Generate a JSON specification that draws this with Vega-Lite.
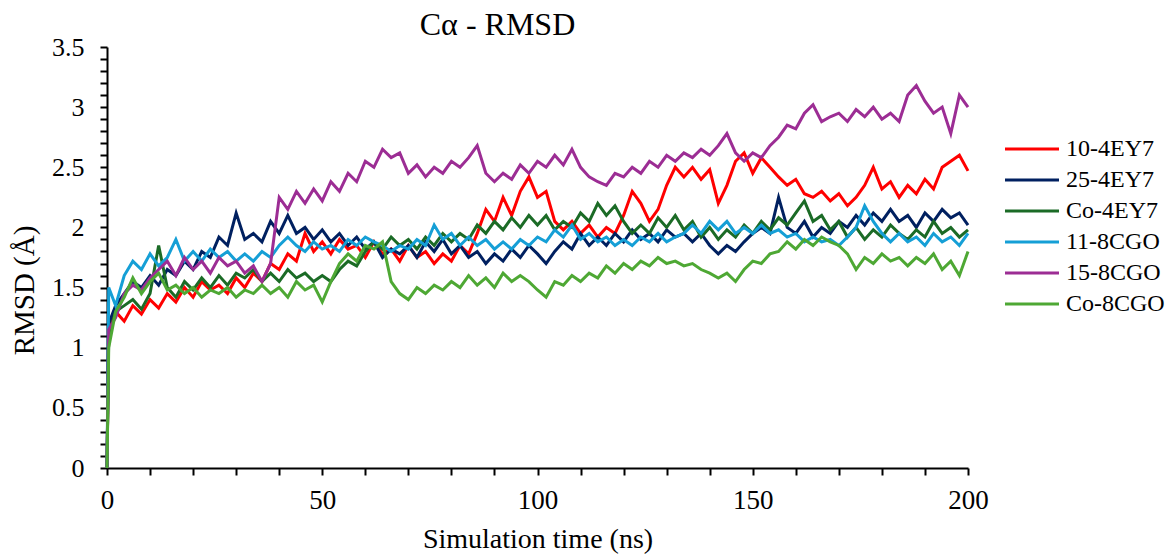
{
  "$schema": "https://vega.github.io/schema/vega-lite/v6.json",
  "width": 861,
  "height": 421,
  "autosize": "none",
  "padding": {"left": 107, "top": 47, "right": 203, "bottom": 86},
  "background": "white",
  "config": {"font": "Liberation Serif", "view": {"stroke": null}},
  "title": {"text": "Cα - RMSD", "fontSize": 32, "fontWeight": "normal", "color": "black", "anchor": "middle", "dx": -40, "offset": -8},
  "data": {"values": [
{"s":"10-4EY7","t":0,"v":0},{"s":"10-4EY7","t":0.4,"v":1.15},{"s":"10-4EY7","t":2,"v":1.3},{"s":"10-4EY7","t":4,"v":1.22},{"s":"10-4EY7","t":6,"v":1.35},{"s":"10-4EY7","t":8,"v":1.28},{"s":"10-4EY7","t":10,"v":1.4},{"s":"10-4EY7","t":12,"v":1.33},{"s":"10-4EY7","t":14,"v":1.45},{"s":"10-4EY7","t":16,"v":1.38},{"s":"10-4EY7","t":18,"v":1.5},{"s":"10-4EY7","t":20,"v":1.42},{"s":"10-4EY7","t":22,"v":1.55},{"s":"10-4EY7","t":24,"v":1.48},{"s":"10-4EY7","t":26,"v":1.52},{"s":"10-4EY7","t":28,"v":1.45},{"s":"10-4EY7","t":30,"v":1.58},{"s":"10-4EY7","t":32,"v":1.5},{"s":"10-4EY7","t":34,"v":1.62},{"s":"10-4EY7","t":36,"v":1.55},{"s":"10-4EY7","t":38,"v":1.7},{"s":"10-4EY7","t":40,"v":1.65},{"s":"10-4EY7","t":42,"v":1.78},{"s":"10-4EY7","t":44,"v":1.72},{"s":"10-4EY7","t":46,"v":1.95},{"s":"10-4EY7","t":48,"v":1.8},{"s":"10-4EY7","t":50,"v":1.88},{"s":"10-4EY7","t":52,"v":1.78},{"s":"10-4EY7","t":54,"v":1.9},{"s":"10-4EY7","t":56,"v":1.82},{"s":"10-4EY7","t":58,"v":1.85},{"s":"10-4EY7","t":60,"v":1.75},{"s":"10-4EY7","t":62,"v":1.88},{"s":"10-4EY7","t":64,"v":1.78},{"s":"10-4EY7","t":66,"v":1.82},{"s":"10-4EY7","t":68,"v":1.72},{"s":"10-4EY7","t":70,"v":1.85},{"s":"10-4EY7","t":72,"v":1.75},{"s":"10-4EY7","t":74,"v":1.8},{"s":"10-4EY7","t":76,"v":1.7},{"s":"10-4EY7","t":78,"v":1.78},{"s":"10-4EY7","t":80,"v":1.72},{"s":"10-4EY7","t":82,"v":1.85},{"s":"10-4EY7","t":84,"v":1.78},{"s":"10-4EY7","t":86,"v":1.95},{"s":"10-4EY7","t":88,"v":2.15},{"s":"10-4EY7","t":90,"v":2.05},{"s":"10-4EY7","t":92,"v":2.25},{"s":"10-4EY7","t":94,"v":2.1},{"s":"10-4EY7","t":96,"v":2.3},{"s":"10-4EY7","t":98,"v":2.42},{"s":"10-4EY7","t":100,"v":2.25},{"s":"10-4EY7","t":102,"v":2.3},{"s":"10-4EY7","t":104,"v":2.05},{"s":"10-4EY7","t":106,"v":1.98},{"s":"10-4EY7","t":108,"v":2.05},{"s":"10-4EY7","t":110,"v":1.95},{"s":"10-4EY7","t":112,"v":2.02},{"s":"10-4EY7","t":114,"v":1.92},{"s":"10-4EY7","t":116,"v":2.0},{"s":"10-4EY7","t":118,"v":1.95},{"s":"10-4EY7","t":120,"v":2.1},{"s":"10-4EY7","t":122,"v":2.3},{"s":"10-4EY7","t":124,"v":2.2},{"s":"10-4EY7","t":126,"v":2.05},{"s":"10-4EY7","t":128,"v":2.15},{"s":"10-4EY7","t":130,"v":2.35},{"s":"10-4EY7","t":132,"v":2.5},{"s":"10-4EY7","t":134,"v":2.42},{"s":"10-4EY7","t":136,"v":2.5},{"s":"10-4EY7","t":138,"v":2.4},{"s":"10-4EY7","t":140,"v":2.48},{"s":"10-4EY7","t":142,"v":2.2},{"s":"10-4EY7","t":144,"v":2.35},{"s":"10-4EY7","t":146,"v":2.55},{"s":"10-4EY7","t":148,"v":2.62},{"s":"10-4EY7","t":150,"v":2.45},{"s":"10-4EY7","t":152,"v":2.58},{"s":"10-4EY7","t":154,"v":2.5},{"s":"10-4EY7","t":156,"v":2.42},{"s":"10-4EY7","t":158,"v":2.35},{"s":"10-4EY7","t":160,"v":2.4},{"s":"10-4EY7","t":162,"v":2.28},{"s":"10-4EY7","t":164,"v":2.25},{"s":"10-4EY7","t":166,"v":2.3},{"s":"10-4EY7","t":168,"v":2.22},{"s":"10-4EY7","t":170,"v":2.28},{"s":"10-4EY7","t":172,"v":2.18},{"s":"10-4EY7","t":174,"v":2.25},{"s":"10-4EY7","t":176,"v":2.35},{"s":"10-4EY7","t":178,"v":2.5},{"s":"10-4EY7","t":180,"v":2.32},{"s":"10-4EY7","t":182,"v":2.38},{"s":"10-4EY7","t":184,"v":2.25},{"s":"10-4EY7","t":186,"v":2.35},{"s":"10-4EY7","t":188,"v":2.28},{"s":"10-4EY7","t":190,"v":2.4},{"s":"10-4EY7","t":192,"v":2.32},{"s":"10-4EY7","t":194,"v":2.5},{"s":"10-4EY7","t":196,"v":2.55},{"s":"10-4EY7","t":198,"v":2.6},{"s":"10-4EY7","t":200,"v":2.47},
{"s":"25-4EY7","t":0,"v":0},{"s":"25-4EY7","t":0.4,"v":1.2},{"s":"25-4EY7","t":2,"v":1.35},{"s":"25-4EY7","t":4,"v":1.45},{"s":"25-4EY7","t":6,"v":1.55},{"s":"25-4EY7","t":8,"v":1.5},{"s":"25-4EY7","t":10,"v":1.6},{"s":"25-4EY7","t":12,"v":1.52},{"s":"25-4EY7","t":14,"v":1.65},{"s":"25-4EY7","t":16,"v":1.6},{"s":"25-4EY7","t":18,"v":1.72},{"s":"25-4EY7","t":20,"v":1.65},{"s":"25-4EY7","t":22,"v":1.8},{"s":"25-4EY7","t":24,"v":1.75},{"s":"25-4EY7","t":26,"v":1.92},{"s":"25-4EY7","t":28,"v":1.85},{"s":"25-4EY7","t":30,"v":2.12},{"s":"25-4EY7","t":32,"v":1.9},{"s":"25-4EY7","t":34,"v":1.95},{"s":"25-4EY7","t":36,"v":1.88},{"s":"25-4EY7","t":38,"v":2.05},{"s":"25-4EY7","t":40,"v":1.95},{"s":"25-4EY7","t":42,"v":2.1},{"s":"25-4EY7","t":44,"v":1.95},{"s":"25-4EY7","t":46,"v":2.0},{"s":"25-4EY7","t":48,"v":1.9},{"s":"25-4EY7","t":50,"v":1.98},{"s":"25-4EY7","t":52,"v":1.88},{"s":"25-4EY7","t":54,"v":1.95},{"s":"25-4EY7","t":56,"v":1.85},{"s":"25-4EY7","t":58,"v":1.92},{"s":"25-4EY7","t":60,"v":1.82},{"s":"25-4EY7","t":62,"v":1.88},{"s":"25-4EY7","t":64,"v":1.75},{"s":"25-4EY7","t":66,"v":1.82},{"s":"25-4EY7","t":68,"v":1.78},{"s":"25-4EY7","t":70,"v":1.85},{"s":"25-4EY7","t":72,"v":1.75},{"s":"25-4EY7","t":74,"v":1.88},{"s":"25-4EY7","t":76,"v":1.8},{"s":"25-4EY7","t":78,"v":1.9},{"s":"25-4EY7","t":80,"v":1.78},{"s":"25-4EY7","t":82,"v":1.85},{"s":"25-4EY7","t":84,"v":1.75},{"s":"25-4EY7","t":86,"v":1.8},{"s":"25-4EY7","t":88,"v":1.7},{"s":"25-4EY7","t":90,"v":1.78},{"s":"25-4EY7","t":92,"v":1.72},{"s":"25-4EY7","t":94,"v":1.82},{"s":"25-4EY7","t":96,"v":1.75},{"s":"25-4EY7","t":98,"v":1.85},{"s":"25-4EY7","t":100,"v":1.78},{"s":"25-4EY7","t":102,"v":1.7},{"s":"25-4EY7","t":104,"v":1.8},{"s":"25-4EY7","t":106,"v":1.88},{"s":"25-4EY7","t":108,"v":1.82},{"s":"25-4EY7","t":110,"v":1.95},{"s":"25-4EY7","t":112,"v":1.85},{"s":"25-4EY7","t":114,"v":1.92},{"s":"25-4EY7","t":116,"v":1.85},{"s":"25-4EY7","t":118,"v":1.95},{"s":"25-4EY7","t":120,"v":1.88},{"s":"25-4EY7","t":122,"v":1.98},{"s":"25-4EY7","t":124,"v":1.9},{"s":"25-4EY7","t":126,"v":1.95},{"s":"25-4EY7","t":128,"v":1.88},{"s":"25-4EY7","t":130,"v":1.98},{"s":"25-4EY7","t":132,"v":1.92},{"s":"25-4EY7","t":134,"v":1.95},{"s":"25-4EY7","t":136,"v":1.88},{"s":"25-4EY7","t":138,"v":1.95},{"s":"25-4EY7","t":140,"v":1.85},{"s":"25-4EY7","t":142,"v":1.78},{"s":"25-4EY7","t":144,"v":1.85},{"s":"25-4EY7","t":146,"v":1.8},{"s":"25-4EY7","t":148,"v":1.88},{"s":"25-4EY7","t":150,"v":1.95},{"s":"25-4EY7","t":152,"v":2.0},{"s":"25-4EY7","t":154,"v":1.95},{"s":"25-4EY7","t":156,"v":2.25},{"s":"25-4EY7","t":158,"v":2.0},{"s":"25-4EY7","t":160,"v":1.95},{"s":"25-4EY7","t":162,"v":2.05},{"s":"25-4EY7","t":164,"v":1.92},{"s":"25-4EY7","t":166,"v":2.0},{"s":"25-4EY7","t":168,"v":1.95},{"s":"25-4EY7","t":170,"v":2.05},{"s":"25-4EY7","t":172,"v":2.0},{"s":"25-4EY7","t":174,"v":2.1},{"s":"25-4EY7","t":176,"v":2.02},{"s":"25-4EY7","t":178,"v":2.12},{"s":"25-4EY7","t":180,"v":2.05},{"s":"25-4EY7","t":182,"v":2.15},{"s":"25-4EY7","t":184,"v":2.05},{"s":"25-4EY7","t":186,"v":2.1},{"s":"25-4EY7","t":188,"v":2.0},{"s":"25-4EY7","t":190,"v":2.12},{"s":"25-4EY7","t":192,"v":2.05},{"s":"25-4EY7","t":194,"v":2.15},{"s":"25-4EY7","t":196,"v":2.08},{"s":"25-4EY7","t":198,"v":2.12},{"s":"25-4EY7","t":200,"v":2.02},
{"s":"Co-4EY7","t":0,"v":0},{"s":"Co-4EY7","t":0.4,"v":1.1},{"s":"Co-4EY7","t":2,"v":1.3},{"s":"Co-4EY7","t":4,"v":1.35},{"s":"Co-4EY7","t":6,"v":1.4},{"s":"Co-4EY7","t":8,"v":1.32},{"s":"Co-4EY7","t":10,"v":1.45},{"s":"Co-4EY7","t":12,"v":1.85},{"s":"Co-4EY7","t":14,"v":1.5},{"s":"Co-4EY7","t":16,"v":1.42},{"s":"Co-4EY7","t":18,"v":1.55},{"s":"Co-4EY7","t":20,"v":1.48},{"s":"Co-4EY7","t":22,"v":1.58},{"s":"Co-4EY7","t":24,"v":1.5},{"s":"Co-4EY7","t":26,"v":1.6},{"s":"Co-4EY7","t":28,"v":1.52},{"s":"Co-4EY7","t":30,"v":1.62},{"s":"Co-4EY7","t":32,"v":1.58},{"s":"Co-4EY7","t":34,"v":1.65},{"s":"Co-4EY7","t":36,"v":1.55},{"s":"Co-4EY7","t":38,"v":1.62},{"s":"Co-4EY7","t":40,"v":1.55},{"s":"Co-4EY7","t":42,"v":1.65},{"s":"Co-4EY7","t":44,"v":1.58},{"s":"Co-4EY7","t":46,"v":1.62},{"s":"Co-4EY7","t":48,"v":1.55},{"s":"Co-4EY7","t":50,"v":1.6},{"s":"Co-4EY7","t":52,"v":1.55},{"s":"Co-4EY7","t":54,"v":1.65},{"s":"Co-4EY7","t":56,"v":1.72},{"s":"Co-4EY7","t":58,"v":1.68},{"s":"Co-4EY7","t":60,"v":1.8},{"s":"Co-4EY7","t":62,"v":1.88},{"s":"Co-4EY7","t":64,"v":1.82},{"s":"Co-4EY7","t":66,"v":1.92},{"s":"Co-4EY7","t":68,"v":1.85},{"s":"Co-4EY7","t":70,"v":1.9},{"s":"Co-4EY7","t":72,"v":1.82},{"s":"Co-4EY7","t":74,"v":1.92},{"s":"Co-4EY7","t":76,"v":1.85},{"s":"Co-4EY7","t":78,"v":1.95},{"s":"Co-4EY7","t":80,"v":1.88},{"s":"Co-4EY7","t":82,"v":1.95},{"s":"Co-4EY7","t":84,"v":1.9},{"s":"Co-4EY7","t":86,"v":2.02},{"s":"Co-4EY7","t":88,"v":1.95},{"s":"Co-4EY7","t":90,"v":2.05},{"s":"Co-4EY7","t":92,"v":1.98},{"s":"Co-4EY7","t":94,"v":2.08},{"s":"Co-4EY7","t":96,"v":2.0},{"s":"Co-4EY7","t":98,"v":2.1},{"s":"Co-4EY7","t":100,"v":2.02},{"s":"Co-4EY7","t":102,"v":2.1},{"s":"Co-4EY7","t":104,"v":1.98},{"s":"Co-4EY7","t":106,"v":2.05},{"s":"Co-4EY7","t":108,"v":2.0},{"s":"Co-4EY7","t":110,"v":2.12},{"s":"Co-4EY7","t":112,"v":2.05},{"s":"Co-4EY7","t":114,"v":2.2},{"s":"Co-4EY7","t":116,"v":2.1},{"s":"Co-4EY7","t":118,"v":2.18},{"s":"Co-4EY7","t":120,"v":2.05},{"s":"Co-4EY7","t":122,"v":1.95},{"s":"Co-4EY7","t":124,"v":2.02},{"s":"Co-4EY7","t":126,"v":1.95},{"s":"Co-4EY7","t":128,"v":2.08},{"s":"Co-4EY7","t":130,"v":2.0},{"s":"Co-4EY7","t":132,"v":2.1},{"s":"Co-4EY7","t":134,"v":1.98},{"s":"Co-4EY7","t":136,"v":2.05},{"s":"Co-4EY7","t":138,"v":1.92},{"s":"Co-4EY7","t":140,"v":2.0},{"s":"Co-4EY7","t":142,"v":1.9},{"s":"Co-4EY7","t":144,"v":1.98},{"s":"Co-4EY7","t":146,"v":1.92},{"s":"Co-4EY7","t":148,"v":2.02},{"s":"Co-4EY7","t":150,"v":1.95},{"s":"Co-4EY7","t":152,"v":2.05},{"s":"Co-4EY7","t":154,"v":1.98},{"s":"Co-4EY7","t":156,"v":2.08},{"s":"Co-4EY7","t":158,"v":2.02},{"s":"Co-4EY7","t":160,"v":2.12},{"s":"Co-4EY7","t":162,"v":2.22},{"s":"Co-4EY7","t":164,"v":2.05},{"s":"Co-4EY7","t":166,"v":2.1},{"s":"Co-4EY7","t":168,"v":1.98},{"s":"Co-4EY7","t":170,"v":2.05},{"s":"Co-4EY7","t":172,"v":1.92},{"s":"Co-4EY7","t":174,"v":2.0},{"s":"Co-4EY7","t":176,"v":1.9},{"s":"Co-4EY7","t":178,"v":1.98},{"s":"Co-4EY7","t":180,"v":1.92},{"s":"Co-4EY7","t":182,"v":2.02},{"s":"Co-4EY7","t":184,"v":1.95},{"s":"Co-4EY7","t":186,"v":1.9},{"s":"Co-4EY7","t":188,"v":1.98},{"s":"Co-4EY7","t":190,"v":1.92},{"s":"Co-4EY7","t":192,"v":2.05},{"s":"Co-4EY7","t":194,"v":1.95},{"s":"Co-4EY7","t":196,"v":2.0},{"s":"Co-4EY7","t":198,"v":1.92},{"s":"Co-4EY7","t":200,"v":1.98},
{"s":"11-8CGO","t":0,"v":0},{"s":"11-8CGO","t":0.4,"v":1.5},{"s":"11-8CGO","t":2,"v":1.35},{"s":"11-8CGO","t":4,"v":1.6},{"s":"11-8CGO","t":6,"v":1.72},{"s":"11-8CGO","t":8,"v":1.65},{"s":"11-8CGO","t":10,"v":1.78},{"s":"11-8CGO","t":12,"v":1.68},{"s":"11-8CGO","t":14,"v":1.75},{"s":"11-8CGO","t":16,"v":1.9},{"s":"11-8CGO","t":18,"v":1.72},{"s":"11-8CGO","t":20,"v":1.8},{"s":"11-8CGO","t":22,"v":1.72},{"s":"11-8CGO","t":24,"v":1.82},{"s":"11-8CGO","t":26,"v":1.75},{"s":"11-8CGO","t":28,"v":1.8},{"s":"11-8CGO","t":30,"v":1.72},{"s":"11-8CGO","t":32,"v":1.78},{"s":"11-8CGO","t":34,"v":1.72},{"s":"11-8CGO","t":36,"v":1.8},{"s":"11-8CGO","t":38,"v":1.75},{"s":"11-8CGO","t":40,"v":1.85},{"s":"11-8CGO","t":42,"v":1.92},{"s":"11-8CGO","t":44,"v":1.85},{"s":"11-8CGO","t":46,"v":1.8},{"s":"11-8CGO","t":48,"v":1.88},{"s":"11-8CGO","t":50,"v":1.82},{"s":"11-8CGO","t":52,"v":1.85},{"s":"11-8CGO","t":54,"v":1.8},{"s":"11-8CGO","t":56,"v":1.9},{"s":"11-8CGO","t":58,"v":1.85},{"s":"11-8CGO","t":60,"v":1.92},{"s":"11-8CGO","t":62,"v":1.88},{"s":"11-8CGO","t":64,"v":1.85},{"s":"11-8CGO","t":66,"v":1.8},{"s":"11-8CGO","t":68,"v":1.85},{"s":"11-8CGO","t":70,"v":1.82},{"s":"11-8CGO","t":72,"v":1.9},{"s":"11-8CGO","t":74,"v":1.85},{"s":"11-8CGO","t":76,"v":2.02},{"s":"11-8CGO","t":78,"v":1.9},{"s":"11-8CGO","t":80,"v":1.95},{"s":"11-8CGO","t":82,"v":1.85},{"s":"11-8CGO","t":84,"v":1.92},{"s":"11-8CGO","t":86,"v":1.85},{"s":"11-8CGO","t":88,"v":1.9},{"s":"11-8CGO","t":90,"v":1.82},{"s":"11-8CGO","t":92,"v":1.88},{"s":"11-8CGO","t":94,"v":1.82},{"s":"11-8CGO","t":96,"v":1.9},{"s":"11-8CGO","t":98,"v":1.85},{"s":"11-8CGO","t":100,"v":1.92},{"s":"11-8CGO","t":102,"v":1.88},{"s":"11-8CGO","t":104,"v":1.98},{"s":"11-8CGO","t":106,"v":1.92},{"s":"11-8CGO","t":108,"v":2.02},{"s":"11-8CGO","t":110,"v":1.9},{"s":"11-8CGO","t":112,"v":1.95},{"s":"11-8CGO","t":114,"v":1.88},{"s":"11-8CGO","t":116,"v":1.92},{"s":"11-8CGO","t":118,"v":1.85},{"s":"11-8CGO","t":120,"v":1.9},{"s":"11-8CGO","t":122,"v":1.85},{"s":"11-8CGO","t":124,"v":1.92},{"s":"11-8CGO","t":126,"v":1.88},{"s":"11-8CGO","t":128,"v":1.95},{"s":"11-8CGO","t":130,"v":1.88},{"s":"11-8CGO","t":132,"v":1.92},{"s":"11-8CGO","t":134,"v":1.95},{"s":"11-8CGO","t":136,"v":2.02},{"s":"11-8CGO","t":138,"v":1.95},{"s":"11-8CGO","t":140,"v":2.05},{"s":"11-8CGO","t":142,"v":1.98},{"s":"11-8CGO","t":144,"v":2.05},{"s":"11-8CGO","t":146,"v":1.95},{"s":"11-8CGO","t":148,"v":2.0},{"s":"11-8CGO","t":150,"v":1.95},{"s":"11-8CGO","t":152,"v":2.02},{"s":"11-8CGO","t":154,"v":1.95},{"s":"11-8CGO","t":156,"v":1.98},{"s":"11-8CGO","t":158,"v":1.92},{"s":"11-8CGO","t":160,"v":1.95},{"s":"11-8CGO","t":162,"v":1.88},{"s":"11-8CGO","t":164,"v":1.92},{"s":"11-8CGO","t":166,"v":1.88},{"s":"11-8CGO","t":168,"v":1.9},{"s":"11-8CGO","t":170,"v":1.85},{"s":"11-8CGO","t":172,"v":1.92},{"s":"11-8CGO","t":174,"v":2.0},{"s":"11-8CGO","t":176,"v":2.18},{"s":"11-8CGO","t":178,"v":2.05},{"s":"11-8CGO","t":180,"v":1.95},{"s":"11-8CGO","t":182,"v":1.88},{"s":"11-8CGO","t":184,"v":1.95},{"s":"11-8CGO","t":186,"v":1.88},{"s":"11-8CGO","t":188,"v":1.92},{"s":"11-8CGO","t":190,"v":1.85},{"s":"11-8CGO","t":192,"v":1.95},{"s":"11-8CGO","t":194,"v":1.88},{"s":"11-8CGO","t":196,"v":1.92},{"s":"11-8CGO","t":198,"v":1.85},{"s":"11-8CGO","t":200,"v":1.95},
{"s":"15-8CGO","t":0,"v":0},{"s":"15-8CGO","t":0.4,"v":1.15},{"s":"15-8CGO","t":2,"v":1.25},{"s":"15-8CGO","t":4,"v":1.45},{"s":"15-8CGO","t":6,"v":1.52},{"s":"15-8CGO","t":8,"v":1.48},{"s":"15-8CGO","t":10,"v":1.58},{"s":"15-8CGO","t":12,"v":1.65},{"s":"15-8CGO","t":14,"v":1.72},{"s":"15-8CGO","t":16,"v":1.6},{"s":"15-8CGO","t":18,"v":1.75},{"s":"15-8CGO","t":20,"v":1.65},{"s":"15-8CGO","t":22,"v":1.72},{"s":"15-8CGO","t":24,"v":1.62},{"s":"15-8CGO","t":26,"v":1.75},{"s":"15-8CGO","t":28,"v":1.68},{"s":"15-8CGO","t":30,"v":1.72},{"s":"15-8CGO","t":32,"v":1.62},{"s":"15-8CGO","t":34,"v":1.68},{"s":"15-8CGO","t":36,"v":1.55},{"s":"15-8CGO","t":38,"v":1.7},{"s":"15-8CGO","t":40,"v":2.25},{"s":"15-8CGO","t":42,"v":2.15},{"s":"15-8CGO","t":44,"v":2.3},{"s":"15-8CGO","t":46,"v":2.2},{"s":"15-8CGO","t":48,"v":2.32},{"s":"15-8CGO","t":50,"v":2.22},{"s":"15-8CGO","t":52,"v":2.38},{"s":"15-8CGO","t":54,"v":2.3},{"s":"15-8CGO","t":56,"v":2.45},{"s":"15-8CGO","t":58,"v":2.38},{"s":"15-8CGO","t":60,"v":2.55},{"s":"15-8CGO","t":62,"v":2.5},{"s":"15-8CGO","t":64,"v":2.65},{"s":"15-8CGO","t":66,"v":2.58},{"s":"15-8CGO","t":68,"v":2.62},{"s":"15-8CGO","t":70,"v":2.45},{"s":"15-8CGO","t":72,"v":2.52},{"s":"15-8CGO","t":74,"v":2.42},{"s":"15-8CGO","t":76,"v":2.5},{"s":"15-8CGO","t":78,"v":2.45},{"s":"15-8CGO","t":80,"v":2.55},{"s":"15-8CGO","t":82,"v":2.5},{"s":"15-8CGO","t":84,"v":2.58},{"s":"15-8CGO","t":86,"v":2.68},{"s":"15-8CGO","t":88,"v":2.45},{"s":"15-8CGO","t":90,"v":2.38},{"s":"15-8CGO","t":92,"v":2.45},{"s":"15-8CGO","t":94,"v":2.4},{"s":"15-8CGO","t":96,"v":2.52},{"s":"15-8CGO","t":98,"v":2.45},{"s":"15-8CGO","t":100,"v":2.55},{"s":"15-8CGO","t":102,"v":2.5},{"s":"15-8CGO","t":104,"v":2.6},{"s":"15-8CGO","t":106,"v":2.52},{"s":"15-8CGO","t":108,"v":2.65},{"s":"15-8CGO","t":110,"v":2.5},{"s":"15-8CGO","t":112,"v":2.42},{"s":"15-8CGO","t":114,"v":2.38},{"s":"15-8CGO","t":116,"v":2.35},{"s":"15-8CGO","t":118,"v":2.45},{"s":"15-8CGO","t":120,"v":2.42},{"s":"15-8CGO","t":122,"v":2.5},{"s":"15-8CGO","t":124,"v":2.45},{"s":"15-8CGO","t":126,"v":2.55},{"s":"15-8CGO","t":128,"v":2.5},{"s":"15-8CGO","t":130,"v":2.6},{"s":"15-8CGO","t":132,"v":2.55},{"s":"15-8CGO","t":134,"v":2.62},{"s":"15-8CGO","t":136,"v":2.58},{"s":"15-8CGO","t":138,"v":2.65},{"s":"15-8CGO","t":140,"v":2.6},{"s":"15-8CGO","t":142,"v":2.68},{"s":"15-8CGO","t":144,"v":2.78},{"s":"15-8CGO","t":146,"v":2.62},{"s":"15-8CGO","t":148,"v":2.55},{"s":"15-8CGO","t":150,"v":2.62},{"s":"15-8CGO","t":152,"v":2.58},{"s":"15-8CGO","t":154,"v":2.68},{"s":"15-8CGO","t":156,"v":2.75},{"s":"15-8CGO","t":158,"v":2.85},{"s":"15-8CGO","t":160,"v":2.82},{"s":"15-8CGO","t":162,"v":2.95},{"s":"15-8CGO","t":164,"v":3.02},{"s":"15-8CGO","t":166,"v":2.88},{"s":"15-8CGO","t":168,"v":2.92},{"s":"15-8CGO","t":170,"v":2.95},{"s":"15-8CGO","t":172,"v":2.88},{"s":"15-8CGO","t":174,"v":2.98},{"s":"15-8CGO","t":176,"v":2.92},{"s":"15-8CGO","t":178,"v":3.0},{"s":"15-8CGO","t":180,"v":2.9},{"s":"15-8CGO","t":182,"v":2.95},{"s":"15-8CGO","t":184,"v":2.88},{"s":"15-8CGO","t":186,"v":3.1},{"s":"15-8CGO","t":188,"v":3.18},{"s":"15-8CGO","t":190,"v":3.05},{"s":"15-8CGO","t":192,"v":2.95},{"s":"15-8CGO","t":194,"v":3.0},{"s":"15-8CGO","t":196,"v":2.78},{"s":"15-8CGO","t":198,"v":3.1},{"s":"15-8CGO","t":200,"v":3.0},
{"s":"Co-8CGO","t":0,"v":0},{"s":"Co-8CGO","t":0.4,"v":1.0},{"s":"Co-8CGO","t":2,"v":1.3},{"s":"Co-8CGO","t":4,"v":1.42},{"s":"Co-8CGO","t":6,"v":1.58},{"s":"Co-8CGO","t":8,"v":1.45},{"s":"Co-8CGO","t":10,"v":1.55},{"s":"Co-8CGO","t":12,"v":1.62},{"s":"Co-8CGO","t":14,"v":1.48},{"s":"Co-8CGO","t":16,"v":1.52},{"s":"Co-8CGO","t":18,"v":1.45},{"s":"Co-8CGO","t":20,"v":1.5},{"s":"Co-8CGO","t":22,"v":1.42},{"s":"Co-8CGO","t":24,"v":1.48},{"s":"Co-8CGO","t":26,"v":1.45},{"s":"Co-8CGO","t":28,"v":1.5},{"s":"Co-8CGO","t":30,"v":1.42},{"s":"Co-8CGO","t":32,"v":1.48},{"s":"Co-8CGO","t":34,"v":1.45},{"s":"Co-8CGO","t":36,"v":1.52},{"s":"Co-8CGO","t":38,"v":1.45},{"s":"Co-8CGO","t":40,"v":1.5},{"s":"Co-8CGO","t":42,"v":1.42},{"s":"Co-8CGO","t":44,"v":1.55},{"s":"Co-8CGO","t":46,"v":1.48},{"s":"Co-8CGO","t":48,"v":1.52},{"s":"Co-8CGO","t":50,"v":1.38},{"s":"Co-8CGO","t":52,"v":1.55},{"s":"Co-8CGO","t":54,"v":1.7},{"s":"Co-8CGO","t":56,"v":1.78},{"s":"Co-8CGO","t":58,"v":1.72},{"s":"Co-8CGO","t":60,"v":1.85},{"s":"Co-8CGO","t":62,"v":1.82},{"s":"Co-8CGO","t":64,"v":1.88},{"s":"Co-8CGO","t":66,"v":1.55},{"s":"Co-8CGO","t":68,"v":1.45},{"s":"Co-8CGO","t":70,"v":1.4},{"s":"Co-8CGO","t":72,"v":1.5},{"s":"Co-8CGO","t":74,"v":1.45},{"s":"Co-8CGO","t":76,"v":1.52},{"s":"Co-8CGO","t":78,"v":1.48},{"s":"Co-8CGO","t":80,"v":1.55},{"s":"Co-8CGO","t":82,"v":1.5},{"s":"Co-8CGO","t":84,"v":1.6},{"s":"Co-8CGO","t":86,"v":1.52},{"s":"Co-8CGO","t":88,"v":1.58},{"s":"Co-8CGO","t":90,"v":1.5},{"s":"Co-8CGO","t":92,"v":1.62},{"s":"Co-8CGO","t":94,"v":1.55},{"s":"Co-8CGO","t":96,"v":1.6},{"s":"Co-8CGO","t":98,"v":1.55},{"s":"Co-8CGO","t":100,"v":1.48},{"s":"Co-8CGO","t":102,"v":1.42},{"s":"Co-8CGO","t":104,"v":1.55},{"s":"Co-8CGO","t":106,"v":1.52},{"s":"Co-8CGO","t":108,"v":1.6},{"s":"Co-8CGO","t":110,"v":1.55},{"s":"Co-8CGO","t":112,"v":1.62},{"s":"Co-8CGO","t":114,"v":1.58},{"s":"Co-8CGO","t":116,"v":1.68},{"s":"Co-8CGO","t":118,"v":1.62},{"s":"Co-8CGO","t":120,"v":1.7},{"s":"Co-8CGO","t":122,"v":1.65},{"s":"Co-8CGO","t":124,"v":1.72},{"s":"Co-8CGO","t":126,"v":1.68},{"s":"Co-8CGO","t":128,"v":1.75},{"s":"Co-8CGO","t":130,"v":1.7},{"s":"Co-8CGO","t":132,"v":1.72},{"s":"Co-8CGO","t":134,"v":1.68},{"s":"Co-8CGO","t":136,"v":1.7},{"s":"Co-8CGO","t":138,"v":1.65},{"s":"Co-8CGO","t":140,"v":1.62},{"s":"Co-8CGO","t":142,"v":1.58},{"s":"Co-8CGO","t":144,"v":1.62},{"s":"Co-8CGO","t":146,"v":1.55},{"s":"Co-8CGO","t":148,"v":1.65},{"s":"Co-8CGO","t":150,"v":1.72},{"s":"Co-8CGO","t":152,"v":1.7},{"s":"Co-8CGO","t":154,"v":1.78},{"s":"Co-8CGO","t":156,"v":1.8},{"s":"Co-8CGO","t":158,"v":1.88},{"s":"Co-8CGO","t":160,"v":1.82},{"s":"Co-8CGO","t":162,"v":1.9},{"s":"Co-8CGO","t":164,"v":1.85},{"s":"Co-8CGO","t":166,"v":1.92},{"s":"Co-8CGO","t":168,"v":1.88},{"s":"Co-8CGO","t":170,"v":1.85},{"s":"Co-8CGO","t":172,"v":1.78},{"s":"Co-8CGO","t":174,"v":1.65},{"s":"Co-8CGO","t":176,"v":1.75},{"s":"Co-8CGO","t":178,"v":1.7},{"s":"Co-8CGO","t":180,"v":1.78},{"s":"Co-8CGO","t":182,"v":1.72},{"s":"Co-8CGO","t":184,"v":1.75},{"s":"Co-8CGO","t":186,"v":1.68},{"s":"Co-8CGO","t":188,"v":1.75},{"s":"Co-8CGO","t":190,"v":1.7},{"s":"Co-8CGO","t":192,"v":1.78},{"s":"Co-8CGO","t":194,"v":1.65},{"s":"Co-8CGO","t":196,"v":1.72},{"s":"Co-8CGO","t":198,"v":1.6},{"s":"Co-8CGO","t":200,"v":1.8}
  ]},
  "mark": {"type": "line", "strokeWidth": 3, "interpolate": "linear"},
  "encoding": {
    "x": {
      "field": "t", "type": "quantitative",
      "scale": {"domain": [0, 200], "nice": false},
      "axis": {
        "title": "Simulation time (ns)",
        "values": [0,10,20,30,40,50,60,70,80,90,100,110,120,130,140,150,160,170,180,190,200],
        "labelExpr": "datum.value % 50 == 0 ? datum.value + '' : ''",
        "labelOverlap": false, "labelFlush": false,
        "grid": false, "domainColor": "black", "domainWidth": 2, "tickColor": "black", "tickWidth": 2, "tickSize": 7,
        "labelFontSize": 27, "labelColor": "black", "labelPadding": 12,
        "titleFontSize": 28, "titleFontWeight": "normal", "titleColor": "black", "titlePadding": 12
      }
    },
    "y": {
      "field": "v", "type": "quantitative",
      "scale": {"domain": [0, 3.5], "nice": false},
      "axis": {
        "title": "RMSD (Å)",
        "values": [0,0.1,0.2,0.3,0.4,0.5,0.6,0.7,0.8,0.9,1,1.1,1.2,1.3,1.4,1.5,1.6,1.7,1.8,1.9,2,2.1,2.2,2.3,2.4,2.5,2.6,2.7,2.8,2.9,3,3.1,3.2,3.3,3.4,3.5],
        "labelExpr": "round(datum.value * 10) % 5 == 0 ? datum.value + '' : ''",
        "labelOverlap": false, "labelFlush": false,
        "grid": false, "domainColor": "black", "domainWidth": 2, "tickColor": "black", "tickWidth": 2, "tickSize": 7,
        "labelFontSize": 26, "labelColor": "black", "labelPadding": 16,
        "titleFontSize": 29, "titleFontWeight": "normal", "titleColor": "black",
        "titleX": -68, "titleY": 243
      }
    },
    "color": {
      "field": "s", "type": "nominal",
      "scale": {
        "domain": ["10-4EY7", "25-4EY7", "Co-4EY7", "11-8CGO", "15-8CGO", "Co-8CGO"],
        "range": ["#ff0000", "#002060", "#1b6b26", "#159fd6", "#9c2d94", "#4ea834"]
      },
      "legend": {
        "title": null, "orient": "none", "legendX": 913, "legendY": 90,
        "symbolType": "M-2.7,0H2.7", "symbolSize": 400, "symbolStrokeWidth": 3,
        "labelFontSize": 24, "labelColor": "black", "labelOffset": 22, "rowPadding": 7, "padding": 0
      }
    }
  }
}
